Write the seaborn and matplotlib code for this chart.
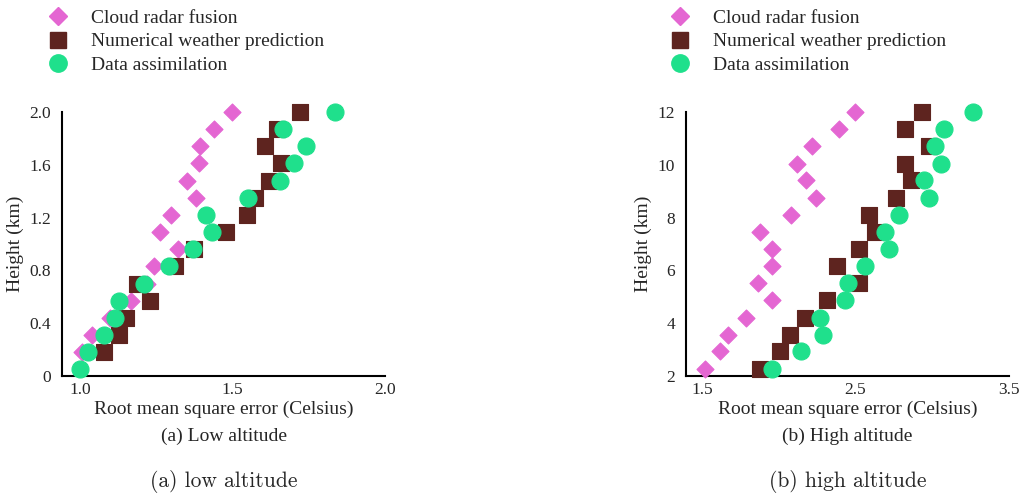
import matplotlib
matplotlib.use("Agg")
import matplotlib.pyplot as plt
import seaborn as sns
import pandas as pd
from matplotlib.lines import Line2D

# Low altitude panel (height in km)
low_height = [2.0, 1.87, 1.74, 1.61, 1.48, 1.35, 1.22, 1.09, 0.96, 0.83,
              0.70, 0.57, 0.44, 0.31, 0.18, 0.05]
low_radar = [1.497, 1.44, 1.395, 1.39, 1.35, 1.38, 1.30, 1.263, 1.32, 1.241,
             1.22, 1.168, 1.098, 1.038, 1.005, None]
low_nwp = [1.72, 1.647, 1.605, 1.66, 1.62, 1.574, 1.546, 1.48, 1.375, 1.31,
           1.188, 1.23, 1.15, 1.128, 1.078, None]
low_assim = [1.837, 1.666, 1.741, 1.703, 1.655, 1.552, 1.413, 1.433, 1.372, 1.291,
             1.21, 1.127, 1.114, 1.079, 1.027, 1.0]

# High altitude panel (height in km)
high_height = [12.0, 11.34, 10.70, 10.04, 9.41, 8.76, 8.11, 7.46, 6.80, 6.16,
               5.51, 4.88, 4.21, 3.56, 2.93, 2.28]
high_radar = [2.496, 2.39, 2.214, 2.12, 2.18, 2.24, 2.08, 1.876, 1.953, 1.957,
              1.865, 1.953, 1.788, 1.667, 1.617, 1.522]
high_nwp = [2.93, 2.82, 2.98, 2.82, 2.86, 2.766, 2.59, 2.627, 2.524, 2.38,
            2.524, 2.313, 2.17, 2.07, 2.005, 1.88]
high_assim = [3.265, 3.074, 3.02, 3.06, 2.946, 2.98, 2.78, 2.69, 2.72, 2.56,
              2.45, 2.434, 2.27, 2.287, 2.144, 1.953]

methods = ["Cloud radar fusion", "Numerical weather prediction", "Data assimilation"]
colors = ["#E466D2", "#5E241F", "#1FE08C"]
markers = ["D", "s", "o"]
sizes = [75, 120, 150]

low_xticks = [1.0, 1.5, 2.0]
low_yticks = [0, 0.4, 0.8, 1.2, 1.6, 2.0]
low_yticklabels = ["0", "0.4", "0.8", "1.2", "1.6", "2.0"]
high_xticks = [1.5, 2.5, 3.5]
high_yticks = [2, 4, 6, 8, 10, 12]

sns.set_style("white")
plt.rcParams["font.family"] = ["Liberation Serif", "DejaVu Serif"]

fig = plt.figure(figsize=(10.22, 4.97), dpi=100)
W, H = 1022, 497


def make_df(height, series):
    rows = []
    for name, vals in zip(methods, series):
        for h, v in zip(height, vals):
            if v is not None:
                rows.append({"method": name, "rmse": v, "height": h})
    return pd.DataFrame(rows)


def draw_panel(rect, df, xlim, ylim, xticks, yticks, yticklabels, title, caption, legend_x):
    ax = fig.add_axes(rect)
    for name, c, m, s in zip(methods, colors, markers, sizes):
        sub = df[df["method"] == name]
        sns.scatterplot(data=sub, x="rmse", y="height", ax=ax, color=c, marker=m,
                        s=s, edgecolor=c, linewidth=0.8, legend=False, zorder=3,
                        clip_on=False)
    ax.set_xlim(*xlim)
    ax.set_ylim(*ylim)
    ax.set_xticks(xticks)
    ax.set_xticklabels([f"{t:.1f}" for t in xticks])
    ax.set_yticks(yticks)
    ax.set_yticklabels(yticklabels)
    ax.tick_params(direction="in", length=5, width=1.2, labelsize=12.5, color="black")
    ax.tick_params(axis="y", pad=8)
    ax.tick_params(axis="x", pad=4)
    for side in ["top", "right"]:
        ax.spines[side].set_visible(False)
    for side in ["left", "bottom"]:
        ax.spines[side].set_color("black")
        ax.spines[side].set_linewidth(1.5)
    ax.set_xlabel("Root mean square error (Celsius)", fontsize=14, labelpad=2)
    ax.set_ylabel("Height (km)", fontsize=14, labelpad=4)
    ax.text(0.5, -0.195, title, transform=ax.transAxes, ha="center", va="top", fontsize=14)
    ax.text(0.5, -0.355, caption, transform=ax.transAxes, ha="center", va="top",
            fontsize=15.5, family="cmr10")

    handles = [Line2D([], [], linestyle="none", marker=m, color=c, markersize=ms)
               for c, m, ms in zip(colors, markers, [9.5, 11.5, 12.5])]
    fig.legend(handles, methods, loc="upper left", bbox_to_anchor=(legend_x, 0.997),
               frameon=False, fontsize=14, handletextpad=0.95, labelspacing=0.3,
               borderaxespad=0.0, handlelength=1.5)
    return ax


low_df = make_df(low_height, [low_radar, low_nwp, low_assim])
high_df = make_df(high_height, [high_radar, high_nwp, high_assim])

draw_panel([62 / W, (H - 376) / H, 323 / W, 264 / H], low_df, (0.941, 2.0), (0, 2.0),
           low_xticks, low_yticks, low_yticklabels, "(a) Low altitude", "(a) low altitude",
           36 / W)
draw_panel([686 / W, (H - 376) / H, 323 / W, 264 / H], high_df, (1.395, 3.5), (2, 12),
           high_xticks, high_yticks, [str(t) for t in high_yticks], "(b) High altitude",
           "(b) high altitude", 658 / W)

fig.savefig("out.png", dpi=100)
